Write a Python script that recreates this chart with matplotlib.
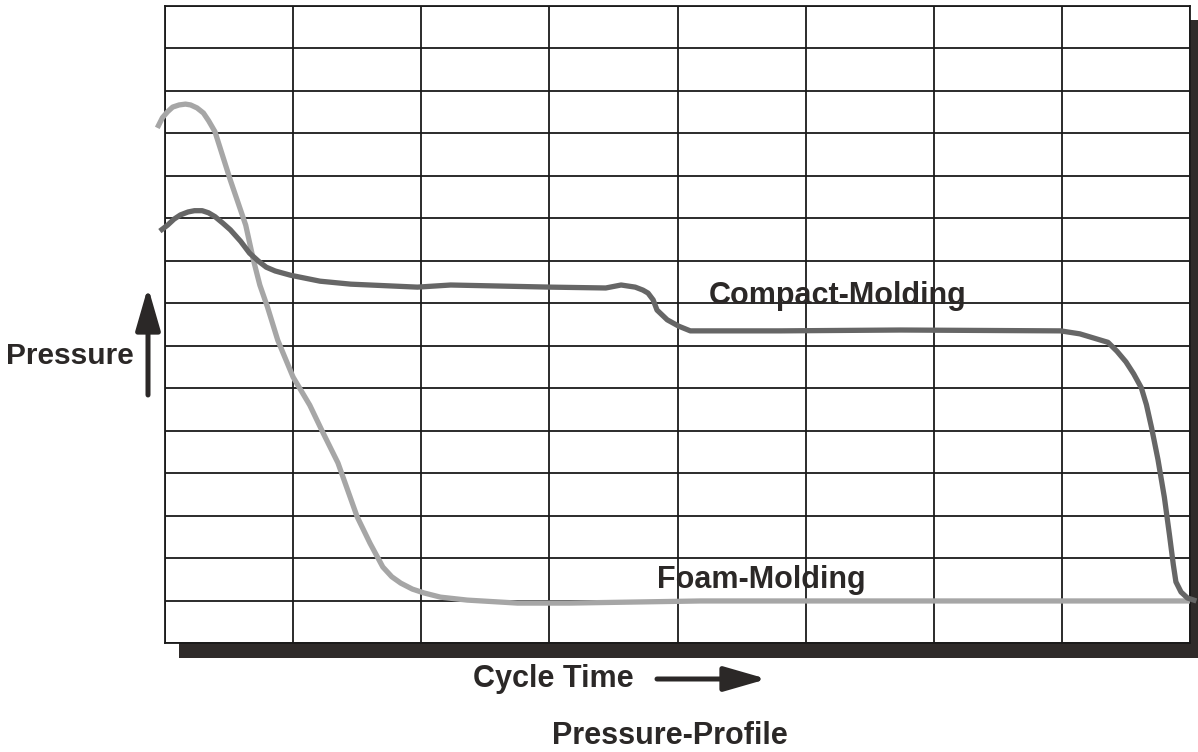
import matplotlib
matplotlib.use('Agg')
import matplotlib.pyplot as plt
from matplotlib.patches import Rectangle

# data, in grid units (8 columns x 15 rows)
foam_x = [-0.06, -0.02, 0.02, 0.06, 0.11, 0.16, 0.2, 0.25, 0.30, 0.34, 0.39,
          0.51, 0.63, 0.69, 0.74, 0.80, 0.88, 1.0, 1.13, 1.23, 1.35, 1.5,
          1.6, 1.7, 1.77, 1.84, 1.93, 2.02, 2.15, 2.36, 2.75, 3.16, 4.18,
          5.74, 8.0]
foam_y = [12.13, 12.37, 12.51, 12.62, 12.67, 12.69, 12.67, 12.60, 12.48, 12.30,
          12.04, 10.90, 9.84, 9.02, 8.43, 7.91, 7.13, 6.26, 5.60, 4.97, 4.24,
          2.97, 2.35, 1.79, 1.56, 1.41, 1.27, 1.18, 1.08, 1.01, 0.94, 0.94,
          0.99, 0.99, 0.99]

compact_x = [-0.04, 0.02, 0.07, 0.12, 0.18, 0.23, 0.29, 0.34, 0.39, 0.45, 0.51,
             0.59, 0.66, 0.73, 0.79, 0.86, 0.98, 1.21, 1.45, 1.97, 2.23, 3.01,
             3.44, 3.56, 3.67, 3.73, 3.77, 3.81, 3.84, 3.92, 4.01, 4.10, 4.80,
             5.74, 6.99, 7.14, 7.36, 7.43, 7.50, 7.56, 7.62, 7.66, 7.70, 7.75,
             7.80, 7.84, 7.87, 7.89, 7.93, 7.98, 8.05]
compact_y = [9.70, 9.84, 9.98, 10.08, 10.15, 10.18, 10.18, 10.13, 10.04, 9.89,
             9.73, 9.46, 9.18, 8.99, 8.85, 8.76, 8.66, 8.52, 8.45, 8.38, 8.43,
             8.38, 8.36, 8.43, 8.38, 8.31, 8.24, 8.08, 7.84, 7.61, 7.46, 7.35,
             7.35, 7.37, 7.35, 7.28, 7.08, 6.87, 6.62, 6.34, 6.01, 5.61, 5.07,
             4.32, 3.43, 2.54, 1.84, 1.44, 1.20, 1.06, 0.99]

n_cols = 8
n_rows = 15

W, H = 1198, 752
fig = plt.figure(figsize=(W / 100, H / 100), dpi=100)
plt.rcParams['font.family'] = ['Liberation Sans', 'DejaVu Sans']

ax = fig.add_axes([165 / W, (H - 643) / H, 1025 / W, 637 / H])
ax.set_facecolor('white')

# drop shadow behind the box
shadow = Rectangle((179 / W, (H - 658) / H), 1040 / W, 638 / H,
                   transform=fig.transFigure, facecolor='#2f2b2a',
                   edgecolor='none', zorder=-5)
fig.patches.append(shadow)

ax.set_xlim(0, n_cols)
ax.set_ylim(0, n_rows)
ax.set_xticks(range(n_cols + 1))
ax.set_yticks(range(n_rows + 1))
ax.tick_params(length=0, labelbottom=False, labelleft=False)
ax.grid(True, color='#1a1a1a', linewidth=1.3)
for s in ax.spines.values():
    s.set_color('#1a1a1a')
    s.set_linewidth(1.3)

ax.plot(foam_x, foam_y, color='#a6a6a6', lw=3.8, clip_on=False,
        solid_capstyle='butt', solid_joinstyle='round', zorder=3)
ax.plot(compact_x, compact_y, color='#666666', lw=3.8, clip_on=False,
        solid_capstyle='butt', solid_joinstyle='round', zorder=4)

tc = '#2b2827'
fs = 22
ax.text((708 - 165) / 128, (643 - 296) / 42.47, 'Compact-Molding', fontsize=fs,
        color=tc, va='center', ha='left', fontweight='bold', zorder=5)
ax.text((657 - 165) / 128, (643 - 580) / 42.47, 'Foam-Molding', fontsize=fs,
        color=tc, va='center', ha='left', fontweight='bold', zorder=5)

fig.text(6 / W, 1 - 356 / H, 'Pressure', fontsize=21.5, color=tc,
         va='center', ha='left', fontweight='bold')
fig.text(473 / W, 1 - 679 / H, 'Cycle Time', fontsize=fs, color=tc,
         va='center', ha='left', fontweight='bold')
fig.text(670 / W, 1 - 736 / H, 'Pressure-Profile', fontsize=fs, color=tc,
         va='center', ha='center', fontweight='bold')

# axis arrows
ap = dict(arrowstyle='-|>,head_length=2.6,head_width=0.75', color=tc, lw=3.6,
          mutation_scale=10, shrinkA=0, shrinkB=0)
ax.annotate('', xy=(148, H - 287), xytext=(148, H - 395),
            xycoords='figure pixels', textcoords='figure pixels',
            arrowprops=ap, annotation_clip=False)
ax.annotate('', xy=(767, H - 679), xytext=(657, H - 679),
            xycoords='figure pixels', textcoords='figure pixels',
            arrowprops=ap, annotation_clip=False)

fig.savefig('out.png', dpi=100)
